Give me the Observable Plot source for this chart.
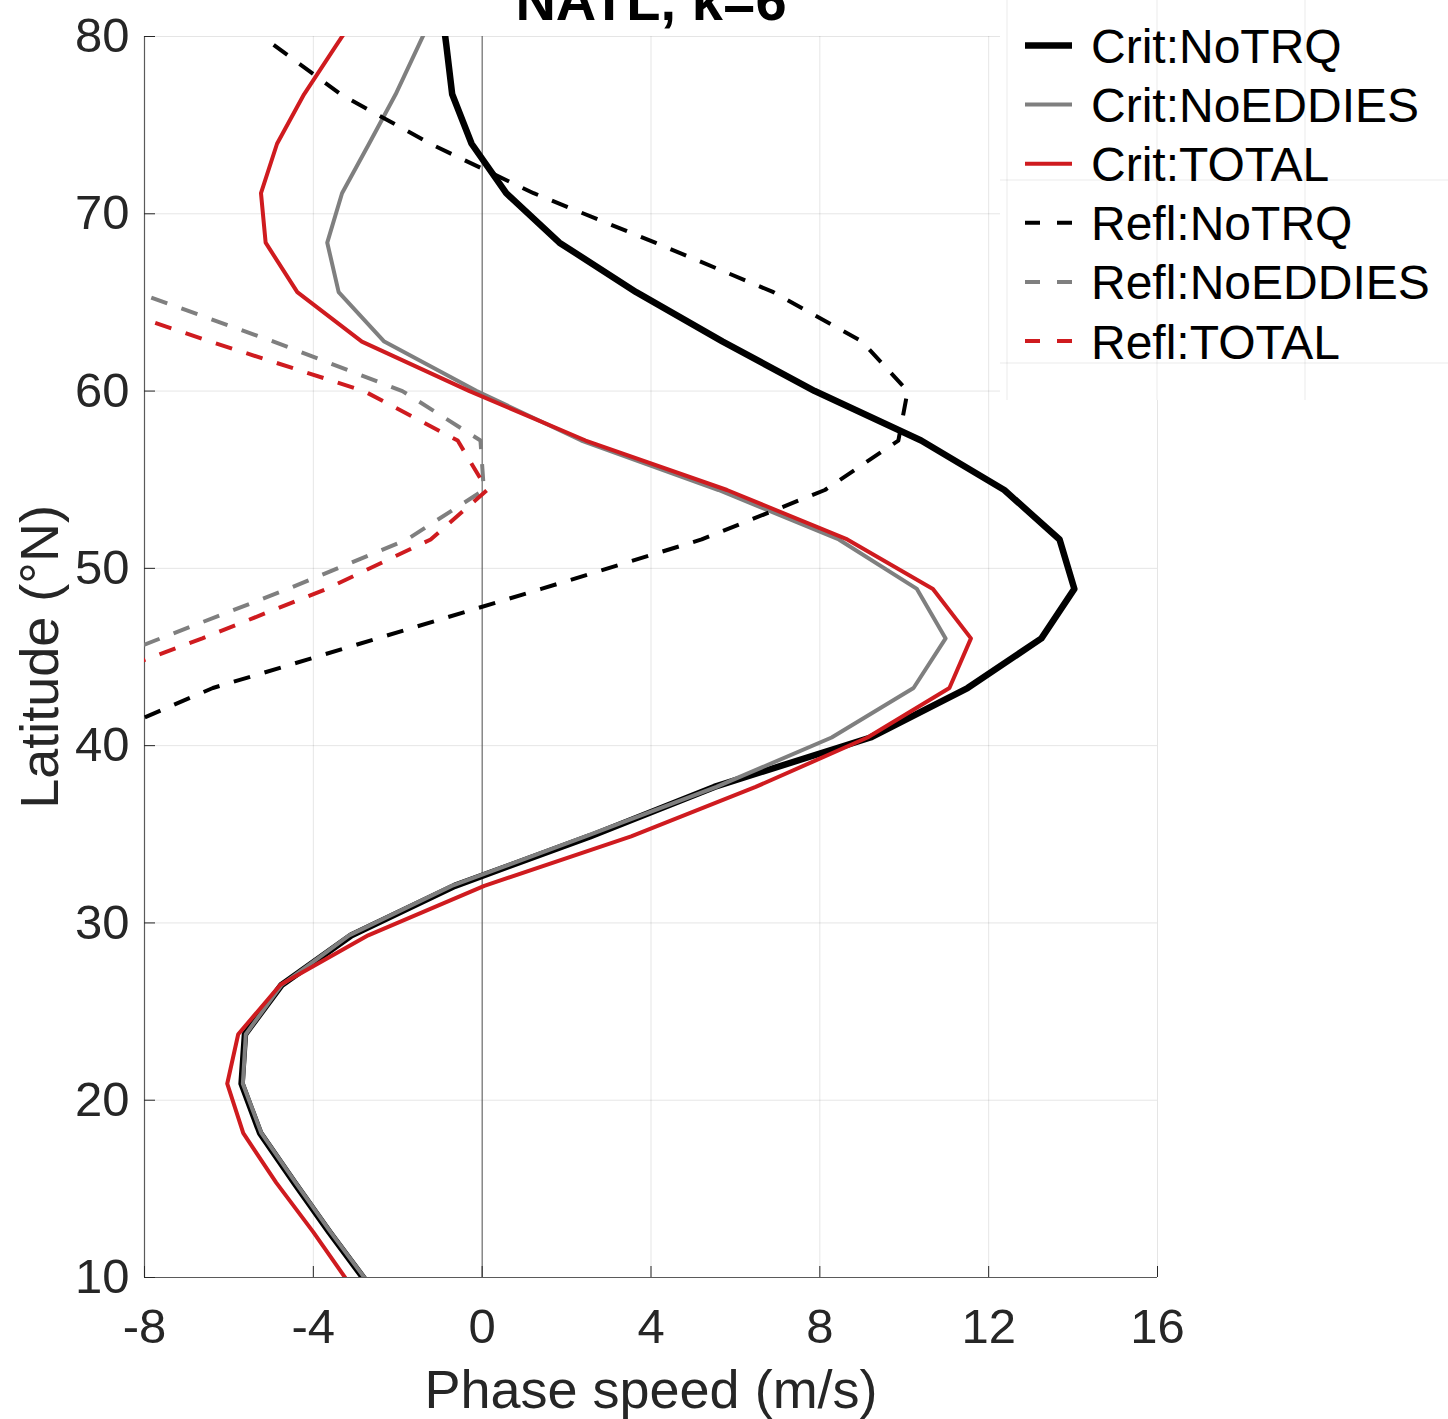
<!DOCTYPE html>
<html>
<head>
<meta charset="utf-8">
<script src="https://cdn.jsdelivr.net/npm/d3@7"></script>
<script src="https://cdn.jsdelivr.net/npm/@observablehq/plot@0.6"></script>
<style>
  html, body { margin: 0; padding: 0; background: #fff; }
  #chart { position: relative; width: 1448px; height: 1419px; overflow: hidden; }
</style>
</head>
<body>
<div id="chart"></div>
<script>
// Gaussian-grid latitudes (°N), north to south
const latitudes = [82.31, 79.53, 76.74, 73.95, 71.16, 68.37, 65.58, 62.79, 60.00, 57.21,
  54.42, 51.63, 48.84, 46.05, 43.25, 40.46, 37.67, 34.88, 32.09, 29.30,
  26.51, 23.72, 20.93, 18.14, 15.35, 12.56, 9.77];

// Critical-line phase speeds (m/s)
const critNoTRQ = [-1.00, -0.85, -0.71, -0.25, 0.57, 1.83, 3.65, 5.70, 7.88, 10.40,
  12.37, 13.68, 14.03, 13.25, 11.50, 9.20, 5.50, 2.55, -0.65, -3.10,
  -4.75, -5.62, -5.70, -5.26, -4.45, -3.62, -2.75];
const critNoEDDIES = [-0.95, -1.50, -2.05, -2.68, -3.32, -3.67, -3.40, -2.32, -0.13, 2.35,
  5.60, 8.45, 10.30, 10.98, 10.22, 8.28, 5.55, 2.45, -0.72, -3.15,
  -4.75, -5.60, -5.67, -5.23, -4.42, -3.59, -2.72];
const critTOTAL = [-2.67, -3.45, -4.22, -4.86, -5.24, -5.13, -4.38, -2.85, -0.30, 2.45,
  5.80, 8.65, 10.68, 11.58, 11.07, 9.13, 6.48, 3.53, 0.05, -2.70,
  -4.78, -5.78, -6.04, -5.66, -4.88, -4.00, -3.18];

// Turning-latitude (reflection) phase speeds (m/s); null where undefined
const reflNoTRQ = [null, -4.94, -3.35, -1.23, 1.22, 4.10, 6.90, 9.00, 10.08, 9.86,
  8.12, 5.20, 1.40, -2.48, -6.38, -9.10, null, null, null, null,
  null, null, null, null, null, null, null];
const reflNoEDDIES = [null, null, null, null, null, -11.4, -8.20, -4.94, -1.89, -0.04,
  0.04, -1.78, -4.60, -7.62, -10.6, null, null, null, null, null,
  null, null, null, null, null, null, null];
const reflTOTAL = [null, null, null, null, null, null, -9.90, -6.44, -2.80, -0.58,
  0.12, -1.22, -3.69, -6.63, -9.80, null, null, null, null, null,
  null, null, null, null, null, null, null];

const seriesNames = ["Crit:NoTRQ", "Crit:NoEDDIES", "Crit:TOTAL", "Refl:NoTRQ", "Refl:NoEDDIES", "Refl:TOTAL"];
const seriesValues = [critNoTRQ, critNoEDDIES, critTOTAL, reflNoTRQ, reflNoEDDIES, reflTOTAL];

const xTicks = [-8, -4, 0, 4, 8, 12, 16];
const yTicks = [10, 20, 30, 40, 50, 60, 70, 80];

const titleText = "NATL, k=6";
const xLabel = "Phase speed (m/s)";
const yLabel = "Latitude (°N)";

// Line styles per series
const RED = "#cf1b1f", GRAY = "#7f7f7f", BLACK = "#000000";
const styles = {
  "Crit:NoTRQ":    {stroke: BLACK, strokeWidth: 6.5, dash: null},
  "Crit:NoEDDIES": {stroke: GRAY,  strokeWidth: 4,   dash: null},
  "Crit:TOTAL":    {stroke: RED,   strokeWidth: 4,   dash: null},
  "Refl:NoTRQ":    {stroke: BLACK, strokeWidth: 4,   dash: "17,15"},
  "Refl:NoEDDIES": {stroke: GRAY,  strokeWidth: 4,   dash: "17,15"},
  "Refl:TOTAL":    {stroke: RED,   strokeWidth: 4,   dash: "17,15"}
};

const rows = seriesNames.flatMap((name, s) =>
  latitudes.map((lat, i) => ({series: name, lat, c: seriesValues[s][i]})));

const FONT = "'Liberation Sans', Arial, Helvetica, sans-serif";
const INK = "#262626";

const lineMarks = seriesNames.map(name => Plot.line(rows.filter(d => d.series === name), {
  x: "c", y: "lat",
  stroke: styles[name].stroke,
  strokeWidth: styles[name].strokeWidth,
  strokeDasharray: styles[name].dash,
  strokeLinejoin: "round",
  strokeLinecap: "butt",
  clip: true
}));

const plot = Plot.plot({
  width: 1448,
  height: 1419,
  marginLeft: 144,
  marginRight: 291,
  marginTop: 36,
  marginBottom: 142,
  style: {fontFamily: FONT, background: "#fff"},
  x: {domain: [-8, 16]},
  y: {domain: [10, 80]},
  marks: [
    Plot.gridX(xTicks, {stroke: "#000", strokeOpacity: 0.1}),
    Plot.gridY(yTicks, {stroke: "#000", strokeOpacity: 0.1}),
    Plot.ruleX([0], {stroke: "#555", strokeWidth: 1}),
    Plot.ruleX([-8], {stroke: "#5a5a5a", strokeWidth: 1.2}),
    Plot.ruleY([10], {stroke: "#5a5a5a", strokeWidth: 1.2}),
    Plot.axisX({ticks: xTicks, tickSize: -11, tickPadding: 42, fontSize: 49, color: INK,
      tickFormat: d => String(d), label: null}),
    Plot.axisY({ticks: yTicks, tickSize: -11, tickPadding: 26, fontSize: 49, color: INK,
      tickFormat: d => String(d), label: null}),
    ...lineMarks,
    Plot.text([titleText], {text: d => d, frameAnchor: "top", dy: -34, lineAnchor: "middle",
      textAnchor: "middle", fontSize: 56, fontWeight: "bold", fill: "#000"}),
    Plot.text([xLabel], {text: d => d, frameAnchor: "bottom", dy: 113, lineAnchor: "middle",
      textAnchor: "middle", fontSize: 54, fill: INK}),
    Plot.text([yLabel], {text: d => d, frameAnchor: "left", dx: -104, rotate: -90, lineAnchor: "middle",
      textAnchor: "middle", fontSize: 54, fill: INK})
  ]
});

document.getElementById("chart").appendChild(plot);

// Legend box in the upper-right corner
const svg = d3.select(plot);
const legend = svg.append("g").attr("font-family", FONT).attr("text-anchor", "start");
legend.append("rect").attr("x", 1000).attr("y", 0).attr("width", 448).attr("height", 400).attr("fill", "#fff");
const faint = legend.append("g").attr("stroke", "#000").attr("stroke-opacity", 0.08).attr("stroke-width", 1);
[1007, 1157, 1305].forEach(x => faint.append("line").attr("x1", x).attr("x2", x).attr("y1", 0).attr("y2", 400));
[180, 363].forEach(y => faint.append("line").attr("x1", 1000).attr("x2", 1448).attr("y1", y).attr("y2", y));

seriesNames.forEach((name, i) => {
  const y = 45.5 + i * 59.1;
  const st = styles[name];
  legend.append("line")
    .attr("x1", 1025).attr("x2", 1072).attr("y1", y).attr("y2", y)
    .attr("stroke", st.stroke)
    .attr("stroke-width", st.strokeWidth)
    .attr("stroke-dasharray", st.dash ? "15,17" : null);
  legend.append("text")
    .attr("x", 1091).attr("y", y + 17.5)
    .attr("font-size", 48)
    .attr("text-anchor", "start")
    .attr("fill", "#000")
    .text(name);
});
</script>
</body>
</html>
